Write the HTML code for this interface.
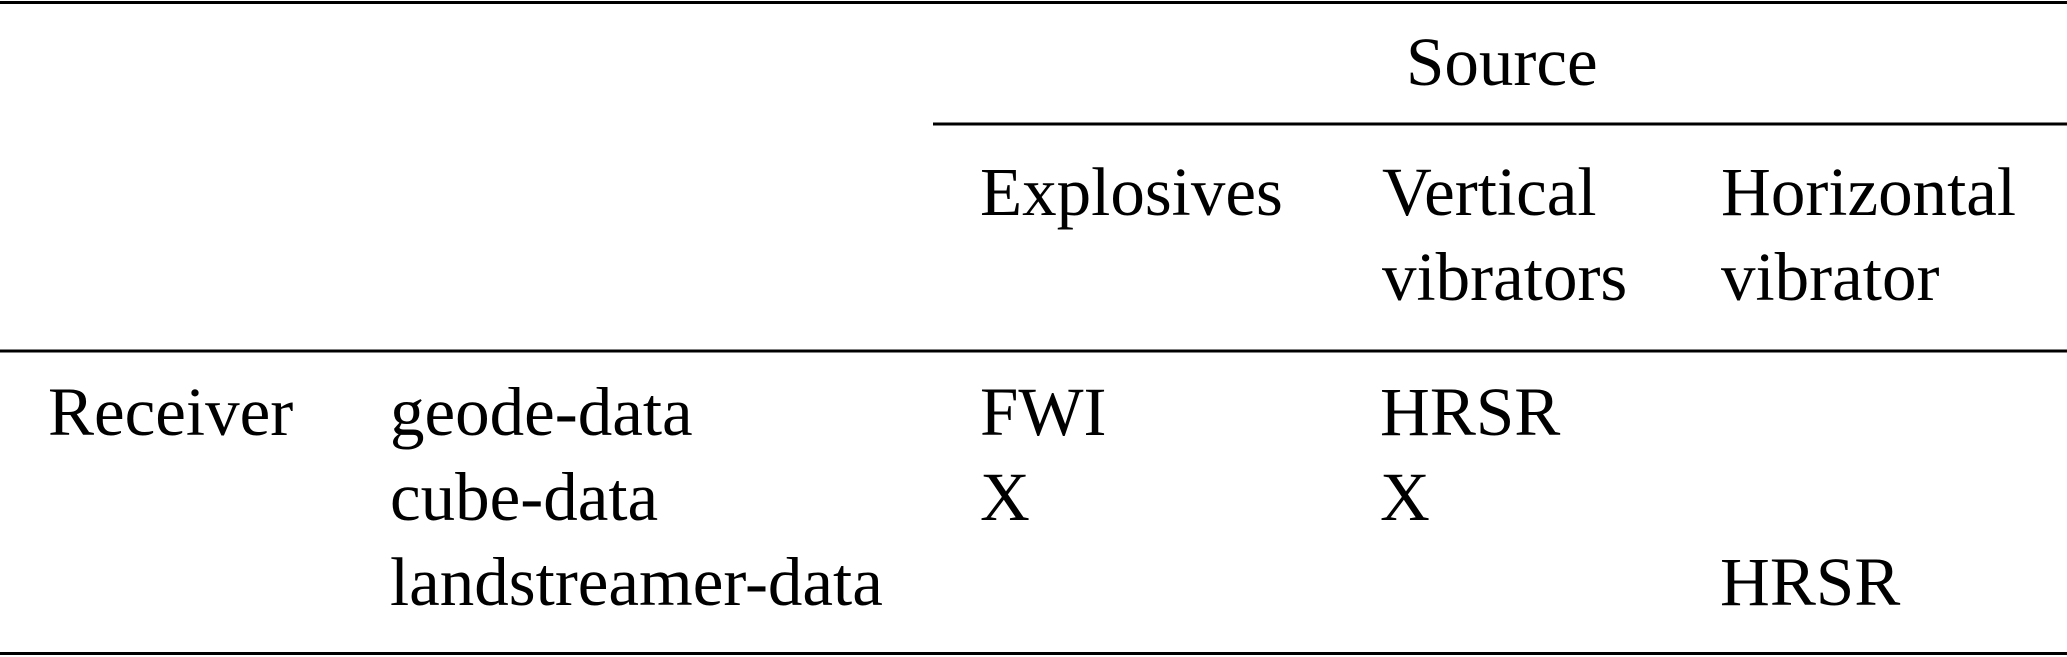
<!DOCTYPE html>
<html><head><meta charset="utf-8"><style>
html,body{margin:0;padding:0;background:#fff;}
svg{display:block}
text{font-family:"Liberation Serif","Times New Roman",serif;font-size:69px;fill:#000}
</style></head><body>
<svg width="2067" height="657" xmlns="http://www.w3.org/2000/svg">
<rect x="0" y="1" width="2067" height="3" fill="#000"/>
<rect x="933" y="122.5" width="1134" height="3" fill="#000"/>
<rect x="0" y="349.5" width="2067" height="3" fill="#000"/>
<rect x="0" y="652" width="2067" height="3" fill="#000"/>
<text x="1406" y="85">Source</text>
<text x="980" y="215">Explosives</text>
<text x="1382" y="215">Vertical</text>
<text x="1721" y="215">Horizontal</text>
<text x="1382" y="300">vibrators</text>
<text x="1721" y="300">vibrator</text>
<text x="48" y="435">Receiver</text>
<text x="390" y="435">geode-data</text>
<text x="980" y="435">FWI</text>
<text x="1380" y="435">HRSR</text>
<text x="390" y="520">cube-data</text>
<text x="980" y="520">X</text>
<text x="1380" y="520">X</text>
<text x="390" y="605">landstreamer-data</text>
<text x="1720" y="605">HRSR</text>
</svg>
</body></html>
